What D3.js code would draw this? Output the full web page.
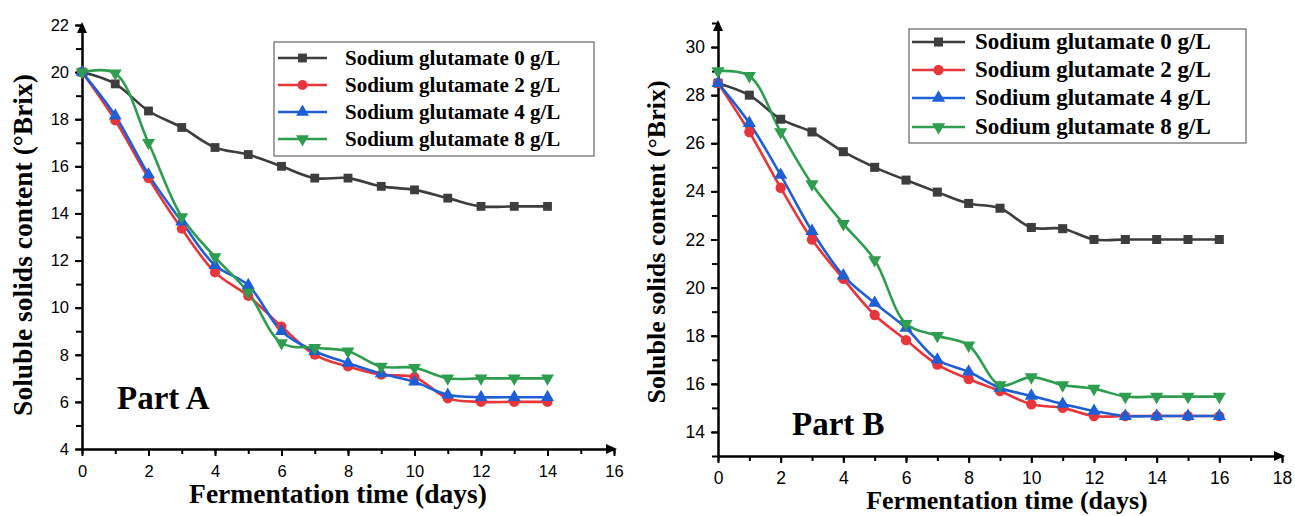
<!DOCTYPE html>
<html>
<head>
<meta charset="utf-8">
<script src="https://cdn.jsdelivr.net/npm/d3@7"></script>
<style>
  body { margin: 0; background: #fff; }
  svg { display: block; }
  .tick text { font-family: "Liberation Sans", Arial, sans-serif; fill: #000; }
  .title { font-family: "Liberation Serif", "Times New Roman", serif; font-weight: bold; fill: #000; }
</style>
</head>
<body>
<script>
// series labels and colours (same for both parts)
const seriesNames = ['Sodium glutamate 0 g/L', 'Sodium glutamate 2 g/L', 'Sodium glutamate 4 g/L', 'Sodium glutamate 8 g/L']
const seriesColors = ['#3d3d3d', '#e8353b', '#1f5fd6', '#2f9d50']
const seriesSymbols = [d3.symbolSquare, d3.symbolCircle, d3.symbolTriangle, d3.symbolTriangle]

// Part A
const daysA = [0, 1, 2, 3, 4, 5, 6, 7, 8, 9, 10, 11, 12, 13, 14]
const a0 = [20, 19.5, 18.35, 17.65, 16.8, 16.5, 16.0, 15.5, 15.5, 15.15, 15.0, 14.65, 14.3, 14.3, 14.3]
const a2 = [20, 17.95, 15.5, 13.35, 11.5, 10.5, 9.2, 8.0, 7.5, 7.15, 7.05, 6.15, 6.0, 6.0, 6.0]
const a4 = [20, 18.15, 15.65, 13.65, 11.8, 10.95, 9.0, 8.15, 7.65, 7.2, 6.85, 6.3, 6.2, 6.2, 6.2]
const a8 = [20, 19.95, 17.0, 13.85, 12.15, 10.65, 8.5, 8.3, 8.15, 7.5, 7.45, 7.0, 7.0, 7.0, 7.0]
const yTicksA = [4, 6, 8, 10, 12, 14, 16, 18, 20, 22]
const xTicksA = [0, 2, 4, 6, 8, 10, 12, 14, 16]

// Part B
const daysB = [0, 1, 2, 3, 4, 5, 6, 7, 8, 9, 10, 11, 12, 13, 14, 15, 16]
const b0 = [28.5, 28.0, 27.0, 26.47, 25.65, 25.0, 24.47, 23.97, 23.5, 23.3, 22.5, 22.45, 22.0, 22.0, 22.0, 22.0, 22.0]
const b2 = [28.5, 26.47, 24.15, 22.0, 20.36, 18.86, 17.82, 16.8, 16.2, 15.7, 15.15, 15.0, 14.66, 14.66, 14.66, 14.66, 14.66]
const b4 = [28.5, 26.84, 24.68, 22.35, 20.5, 19.36, 18.32, 17.0, 16.5, 15.83, 15.5, 15.16, 14.87, 14.66, 14.66, 14.66, 14.66]
const b8 = [29.0, 28.8, 26.47, 24.3, 22.65, 21.15, 18.5, 18.0, 17.6, 15.95, 16.28, 15.95, 15.8, 15.47, 15.47, 15.47, 15.47]
const yTicksB = [14, 16, 18, 20, 22, 24, 26, 28, 30]
const xTicksB = [0, 2, 4, 6, 8, 10, 12, 14, 16, 18]

const xTitle = 'Fermentation time (days)'
const yTitle = 'Soluble solids content (°Brix)'

const svg = d3.select('body').append('svg')
  .attr('width', 1295)
  .attr('height', 516)

drawPanel({
  days: daysA, series: [a0, a2, a4, a8],
  xDomain: [0, 16], xRange: [82, 614], xTicks: xTicksA,
  yDomain: [4, 22], yRange: [449, 25], yTicks: yTicksA,
  tickFont: 16.5, xPad: 9,
  yTitleX: 32, yTitleY: 245, xTitleX: 338, xTitleY: 503, titleFont: 27.5,
  part: 'Part A', partX: 117, partY: 409,
  legend: {x: 274, y: 42, w: 320, h: 114, rows: [58, 85, 112, 139], line: [278, 327], textX: 345, font: 21},
  marker: 1
})

drawPanel({
  days: daysB, series: [b0, b2, b4, b8],
  xDomain: [0, 18], xRange: [718, 1282], xTicks: xTicksB,
  yDomain: [13, 31], yRange: [456, 23], yTicks: yTicksB,
  tickFont: 17.5, xPad: 9,
  yTitleX: 665, yTitleY: 242, xTitleX: 1007, xTitleY: 509, titleFont: 26,
  part: 'Part B', partX: 792, partY: 435,
  legend: {x: 909, y: 29, w: 337, h: 114, rows: [42, 70, 98, 127], line: [912, 965], textX: 975, font: 23},
  marker: 1.05
})

function drawPanel(cfg) {
  const g = svg.append('g')

  const x = d3.scaleLinear().domain(cfg.xDomain).range(cfg.xRange)
  const y = d3.scaleLinear().domain(cfg.yDomain).range(cfg.yRange)

  // all integer positions get a minor tick, labelled ones a major tick
  const xMinor = d3.range(cfg.xDomain[0], cfg.xDomain[1] + 1)
  const yMinor = d3.range(cfg.yDomain[0], cfg.yDomain[1] + 1)
  const y0 = cfg.yRange[0]
  const x0 = cfg.xRange[0]

  // minor ticks
  g.append('g')
    .attr('transform', 'translate(0,' + y0 + ')')
    .call(d3.axisBottom(x).tickValues(xMinor).tickSize(5).tickSizeOuter(0).tickFormat(''))
  g.append('g')
    .attr('transform', 'translate(' + x0 + ',0)')
    .call(d3.axisLeft(y).tickValues(yMinor).tickSize(6).tickSizeOuter(0).tickFormat(''))

  // major ticks with labels
  g.append('g')
    .attr('transform', 'translate(0,' + y0 + ')')
    .call(d3.axisBottom(x).tickValues(cfg.xTicks).tickSize(7).tickSizeOuter(0).tickPadding(cfg.xPad))
  g.append('g')
    .attr('transform', 'translate(' + x0 + ',0)')
    .call(d3.axisLeft(y).tickValues(cfg.yTicks).tickSize(7).tickSizeOuter(0).tickPadding(6))

  g.selectAll('.tick text').style('font-size', cfg.tickFont + 'px')
  g.selectAll('.domain, .tick line').attr('stroke', '#000').attr('stroke-width', 2)

  // arrow heads at the ends of the axes
  const xe = x(cfg.xDomain[1]), ye = y(cfg.yDomain[1])
  g.append('path')
    .attr('d', `M${xe + 3},${y0} L${xe - 8},${y0 - 5} L${xe - 8},${y0 + 5} Z`)
    .attr('fill', '#000')
  g.append('path')
    .attr('d', `M${x0},${ye - 3} L${x0 - 5},${ye + 8} L${x0 + 5},${ye + 8} Z`)
    .attr('fill', '#000')

  // lines
  const line = d3.line()
    .x((d, i) => x(cfg.days[i]))
    .y(d => y(d))
    .curve(d3.curveCatmullRom.alpha(0.5))

  cfg.series.forEach(function(values, s) {
    g.append('path')
      .attr('d', line(values))
      .attr('fill', 'none')
      .attr('stroke', seriesColors[s])
      .attr('stroke-width', 2.6)
  })

  // markers
  cfg.series.forEach(function(values, s) {
    g.append('g')
      .selectAll('path')
      .data(values)
      .enter().append('path')
      .attr('transform', (d, i) => 'translate(' + x(cfg.days[i]) + ',' + y(d) + ')' + (s === 3 ? ' rotate(180)' : ''))
      .attr('d', symbolPath(s, cfg.marker))
      .attr('fill', seriesColors[s])
  })

  // axis titles
  g.append('text')
    .attr('class', 'title')
    .attr('transform', 'translate(' + cfg.yTitleX + ',' + cfg.yTitleY + ') rotate(-90)')
    .attr('text-anchor', 'middle')
    .style('font-size', cfg.titleFont + 'px')
    .text(yTitle)
  g.append('text')
    .attr('class', 'title')
    .attr('x', cfg.xTitleX)
    .attr('y', cfg.xTitleY)
    .attr('text-anchor', 'middle')
    .style('font-size', cfg.titleFont + 'px')
    .text(xTitle)

  g.append('text')
    .attr('class', 'title')
    .attr('x', cfg.partX)
    .attr('y', cfg.partY)
    .style('font-size', '33px')
    .text(cfg.part)

  // legend
  const lg = cfg.legend
  g.append('rect')
    .attr('x', lg.x).attr('y', lg.y)
    .attr('width', lg.w).attr('height', lg.h)
    .attr('fill', '#fff')
    .attr('stroke', '#666')
    .attr('stroke-width', 1.2)

  seriesNames.forEach(function(name, s) {
    const ry = lg.rows[s]
    g.append('line')
      .attr('x1', lg.line[0]).attr('x2', lg.line[1])
      .attr('y1', ry).attr('y2', ry)
      .attr('stroke', seriesColors[s])
      .attr('stroke-width', 2.6)
    g.append('path')
      .attr('transform', 'translate(' + (lg.line[0] + lg.line[1]) / 2 + ',' + ry + ')' + (s === 3 ? ' rotate(180)' : ''))
      .attr('d', symbolPath(s, cfg.marker))
      .attr('fill', seriesColors[s])
    g.append('text')
      .attr('class', 'title')
      .attr('x', lg.textX)
      .attr('y', ry + 7)
      .style('font-size', lg.font + 'px')
      .text(name)
  })
}

function symbolPath(s, k) {
  const sizes = [78, 80, 72, 72]
  return d3.symbol().type(seriesSymbols[s]).size(sizes[s] * k)()
}
</script>
</body>
</html>
